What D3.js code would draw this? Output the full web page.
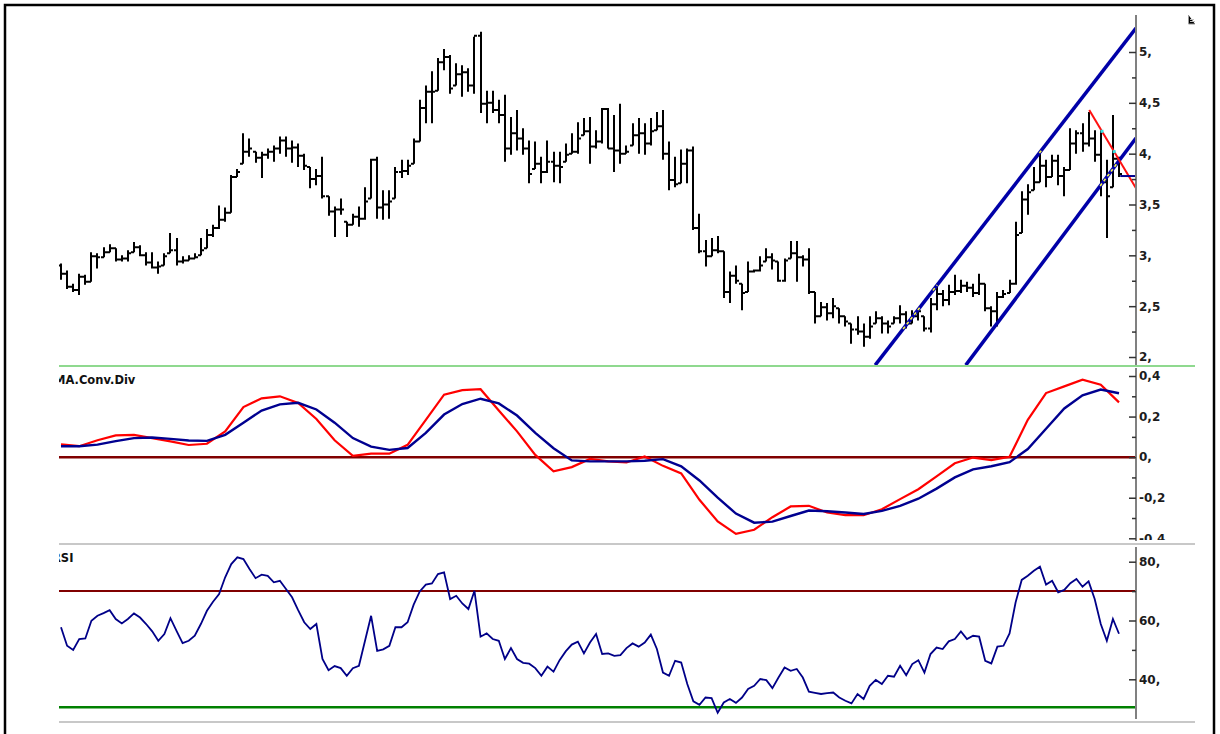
<!DOCTYPE html>
<html>
<head>
<meta charset="utf-8">
<script src="https://cdn.jsdelivr.net/npm/d3@7"></script>
<style>
  body { margin: 0; background: #fff; }
  svg { display: block; }
  .panelTitle { font-family: "DejaVu Sans", Verdana, sans-serif; font-size: 11.5px; font-weight: bold; fill: #111; }
</style>
</head>
<body>
<div id="chart"></div>
<script>
// price bars (one per session)
const priceOpen = [
  2.90, 2.82, 2.69, 2.66, 2.79, 2.74, 2.99, 2.98, 3.03, 3.07,
  2.96, 2.97, 3.03, 3.08, 3.00, 2.93, 2.88, 2.90, 3.02, 3.05,
  2.94, 2.95, 2.97, 3.00, 3.07, 3.20, 3.27, 3.35, 3.42, 3.77,
  3.90, 4.02, 4.02, 3.96, 3.99, 4.02, 4.05, 4.13, 4.05, 4.06,
  3.98, 3.87, 3.75, 3.78, 3.58, 3.43, 3.45, 3.33, 3.30, 3.38,
  3.36, 3.56, 3.94, 3.47, 3.50, 3.56, 3.82, 3.83, 3.90, 4.12,
  4.45, 4.61, 4.62, 4.90, 4.95, 4.67, 4.78, 4.80, 4.67, 5.16,
  4.49, 4.50, 4.43, 4.38, 4.05, 4.20, 4.15, 4.05, 3.85, 3.90,
  3.82, 3.92, 3.88, 3.92, 4.00, 4.02, 4.18, 4.22, 4.07, 4.12,
  4.44, 4.05, 4.03, 4.00, 4.08, 4.18, 4.20, 4.10, 4.23, 4.27,
  4.00, 3.74, 3.71, 3.90, 4.03, 3.27, 3.04, 2.99, 3.05, 3.04,
  2.64, 2.80, 2.72, 2.64, 2.84, 2.85, 2.94, 2.98, 2.94, 2.75,
  2.97, 3.02, 2.98, 2.96, 2.64, 2.40, 2.49, 2.43, 2.48, 2.40,
  2.33, 2.27, 2.25, 2.20, 2.33, 2.38, 2.33, 2.33, 2.38, 2.42,
  2.33, 2.40, 2.40, 2.28, 2.52, 2.62, 2.56, 2.64, 2.65, 2.70,
  2.68, 2.63, 2.72, 2.48, 2.45, 2.59, 2.63, 2.72, 3.22, 3.55,
  3.64, 3.72, 3.88, 3.77, 3.93, 3.78, 3.84, 4.10, 4.20, 4.10,
  4.15, 3.99, 3.72, 3.67, 3.95
];
const priceHigh = [
  2.92, 2.85, 2.72, 2.82, 2.81, 3.03, 3.02, 3.08, 3.11, 3.07,
  3.00, 3.05, 3.13, 3.10, 3.03, 3.03, 2.94, 3.02, 3.22, 3.17,
  2.99, 3.00, 3.02, 3.17, 3.26, 3.30, 3.49, 3.47, 3.79, 3.85,
  4.20, 4.15, 4.02, 4.02, 4.05, 4.08, 4.17, 4.17, 4.13, 4.10,
  4.00, 3.87, 3.85, 3.97, 3.58, 3.48, 3.56, 3.33, 3.41, 3.48,
  3.67, 3.95, 3.97, 3.64, 3.64, 3.87, 3.94, 3.94, 4.15, 4.53,
  4.67, 4.81, 4.94, 5.03, 4.97, 4.89, 4.87, 4.84, 5.15, 5.20,
  4.62, 4.62, 4.53, 4.58, 4.36, 4.43, 4.25, 4.13, 4.12, 3.97,
  4.13, 4.02, 4.02, 4.10, 4.20, 4.31, 4.35, 4.36, 4.23, 4.45,
  4.45, 4.38, 4.49, 4.08, 4.30, 4.35, 4.30, 4.35, 4.41, 4.43,
  4.12, 3.97, 4.04, 4.05, 4.07, 3.41, 3.15, 3.17, 3.19, 3.04,
  2.84, 2.90, 2.72, 2.94, 2.86, 2.99, 3.07, 3.02, 2.94, 2.97,
  3.14, 3.14, 3.00, 3.07, 2.64, 2.54, 2.53, 2.58, 2.48, 2.40,
  2.33, 2.40, 2.33, 2.40, 2.45, 2.40, 2.36, 2.40, 2.51, 2.45,
  2.46, 2.48, 2.40, 2.58, 2.72, 2.66, 2.71, 2.81, 2.76, 2.74,
  2.72, 2.82, 2.72, 2.50, 2.64, 2.66, 2.76, 3.33, 3.63, 3.70,
  3.87, 4.02, 3.94, 3.99, 3.99, 3.87, 4.25, 4.23, 4.30, 4.41,
  4.23, 4.23, 3.94, 4.38, 3.97
];
const priceLow = [
  2.76, 2.67, 2.64, 2.61, 2.71, 2.74, 2.87, 2.98, 3.03, 2.94,
  2.94, 2.94, 3.03, 2.99, 2.90, 2.87, 2.82, 2.90, 3.02, 2.90,
  2.92, 2.95, 2.97, 3.00, 3.07, 3.18, 3.26, 3.33, 3.42, 3.77,
  3.90, 3.97, 3.91, 3.76, 3.95, 3.92, 4.00, 3.97, 3.91, 3.87,
  3.84, 3.66, 3.69, 3.56, 3.39, 3.18, 3.40, 3.18, 3.30, 3.28,
  3.35, 3.56, 3.36, 3.35, 3.36, 3.56, 3.76, 3.79, 3.90, 4.12,
  4.30, 4.30, 4.62, 4.82, 4.59, 4.67, 4.56, 4.61, 4.59, 4.40,
  4.30, 4.40, 4.30, 3.92, 3.99, 4.03, 3.99, 3.71, 3.85, 3.71,
  3.81, 3.72, 3.71, 3.92, 4.00, 4.00, 4.18, 3.90, 4.05, 4.10,
  4.05, 3.82, 3.90, 4.00, 4.08, 4.00, 3.99, 4.08, 4.23, 3.94,
  3.64, 3.67, 3.71, 3.71, 3.25, 3.02, 2.89, 2.99, 3.02, 2.58,
  2.53, 2.72, 2.46, 2.64, 2.83, 2.84, 2.94, 2.86, 2.74, 2.74,
  2.97, 2.74, 2.89, 2.62, 2.33, 2.40, 2.36, 2.38, 2.33, 2.30,
  2.13, 2.22, 2.10, 2.18, 2.33, 2.23, 2.23, 2.33, 2.33, 2.28,
  2.33, 2.36, 2.25, 2.24, 2.46, 2.50, 2.51, 2.61, 2.63, 2.64,
  2.59, 2.61, 2.45, 2.30, 2.30, 2.58, 2.63, 2.71, 3.22, 3.40,
  3.64, 3.72, 3.67, 3.77, 3.69, 3.58, 3.84, 4.00, 4.02, 4.07,
  3.92, 3.58, 3.17, 3.67, 3.77
];
const priceClose = [
  2.82, 2.69, 2.66, 2.79, 2.74, 2.99, 2.98, 3.03, 3.07, 2.96,
  2.97, 3.02, 3.08, 3.00, 2.93, 2.88, 2.89, 2.99, 3.05, 2.94,
  2.95, 2.97, 2.98, 3.05, 3.20, 3.27, 3.35, 3.42, 3.77, 3.82,
  4.02, 4.05, 3.96, 3.99, 4.02, 4.05, 4.13, 4.05, 4.06, 3.98,
  3.88, 3.75, 3.78, 3.58, 3.43, 3.45, 3.45, 3.30, 3.38, 3.36,
  3.53, 3.94, 3.47, 3.50, 3.53, 3.82, 3.83, 3.88, 4.12, 4.45,
  4.61, 4.61, 4.90, 4.95, 4.64, 4.78, 4.80, 4.67, 5.16, 4.49,
  4.50, 4.43, 4.38, 4.05, 4.20, 4.15, 4.05, 3.80, 3.90, 3.82,
  3.92, 3.88, 3.87, 3.99, 4.02, 4.15, 4.22, 4.07, 4.12, 4.44,
  4.05, 4.03, 4.00, 4.02, 4.18, 4.20, 4.10, 4.22, 4.27, 4.00,
  3.74, 3.70, 3.90, 4.03, 3.27, 3.04, 2.99, 3.05, 3.04, 2.64,
  2.80, 2.75, 2.63, 2.84, 2.85, 2.90, 2.98, 2.95, 2.75, 2.95,
  3.02, 2.98, 2.96, 2.64, 2.40, 2.49, 2.43, 2.50, 2.40, 2.35,
  2.27, 2.25, 2.20, 2.30, 2.38, 2.33, 2.30, 2.38, 2.42, 2.33,
  2.40, 2.45, 2.28, 2.52, 2.62, 2.56, 2.64, 2.65, 2.70, 2.68,
  2.63, 2.72, 2.48, 2.45, 2.59, 2.62, 2.72, 3.20, 3.55, 3.62,
  3.72, 3.88, 3.77, 3.93, 3.78, 3.84, 4.10, 4.20, 4.10, 4.15,
  3.99, 3.72, 3.58, 3.95, 3.80
];

// MACD (red) and its signal (navy), read every third session
const macdIdx = [
  0, 3, 6, 9, 12, 15, 18, 21, 24, 27, 30, 33, 36, 39, 42, 45, 48, 51, 54, 57,
  60, 63, 66, 69, 72, 75, 78, 81, 84, 87, 90, 93, 96, 99, 102, 105, 108, 111, 114, 117,
  120, 123, 126, 129, 132, 135, 138, 141, 144, 147, 150, 153, 156, 159, 162, 165, 168, 171, 174
];
const macdLine = [
  0.063, 0.054, 0.083, 0.107, 0.110, 0.094, 0.078, 0.060, 0.066, 0.127,
  0.247, 0.290, 0.300, 0.267, 0.188, 0.083, 0.007, 0.017, 0.017, 0.061,
  0.184, 0.308, 0.330, 0.335, 0.230, 0.127, 0.011, -0.070, -0.049, -0.009,
  -0.021, -0.026, 0.003, -0.043, -0.080, -0.210, -0.317, -0.378, -0.358, -0.296,
  -0.243, -0.240, -0.273, -0.286, -0.286, -0.257, -0.207, -0.158, -0.095, -0.030,
  -0.002, -0.015, 0.002, 0.184, 0.316, 0.349, 0.382, 0.357, 0.270
];
const signalLine = [
  0.054, 0.054, 0.062, 0.079, 0.094, 0.097, 0.090, 0.082, 0.080, 0.110,
  0.170, 0.230, 0.260, 0.268, 0.235, 0.170, 0.094, 0.052, 0.036, 0.045,
  0.120, 0.210, 0.262, 0.288, 0.265, 0.205, 0.120, 0.044, -0.016, -0.021,
  -0.021, -0.021, -0.018, -0.010, -0.045, -0.115, -0.200, -0.278, -0.323, -0.318,
  -0.290, -0.263, -0.267, -0.273, -0.280, -0.265, -0.240, -0.205, -0.155, -0.100,
  -0.060, -0.045, -0.025, 0.040, 0.140, 0.240, 0.305, 0.333, 0.315
];

// RSI, one value per session
const rsiValues = [
  57.7, 51.4, 50.0, 53.7, 53.9, 59.9, 61.6, 62.5, 63.5, 60.5,
  59.0, 60.5, 62.4, 61.0, 58.8, 56.3, 53.1, 55.4, 60.8, 56.5,
  52.3, 53.1, 54.8, 58.8, 63.3, 66.4, 69.0, 74.7, 79.2, 81.5,
  80.9, 77.5, 74.4, 75.6, 75.2, 73.0, 73.5, 70.7, 67.9, 63.5,
  59.4, 57.1, 58.8, 46.9, 43.1, 44.5, 43.8, 41.2, 43.8, 44.6,
  53.1, 61.6, 49.7, 50.2, 51.4, 57.7, 57.7, 59.4, 65.4, 69.9,
  72.2, 72.6, 75.8, 76.4, 67.3, 68.4, 65.8, 63.9, 70.1, 54.5,
  55.6, 53.7, 53.1, 46.9, 50.6, 46.9, 45.6, 45.3, 43.8, 41.2,
  44.3, 42.6, 46.5, 49.5, 51.8, 52.8, 48.8, 52.5, 55.4, 48.6,
  48.8, 48.0, 48.2, 50.6, 52.2, 51.1, 52.5, 55.2, 50.3, 42.3,
  41.2, 46.3, 45.7, 38.4, 32.5, 31.3, 33.8, 33.6, 28.6, 32.1,
  33.3, 32.0, 33.8, 36.7, 37.8, 40.1, 39.7, 37.0, 40.6, 44.0,
  42.9, 43.5, 40.6, 35.8, 35.4, 35.0, 35.3, 35.5, 33.8, 32.7,
  31.8, 35.0, 33.3, 37.8, 39.8, 38.4, 41.2, 40.9, 44.6, 41.4,
  45.2, 46.5, 42.3, 48.6, 50.8, 50.3, 52.9, 53.7, 56.3, 53.7,
  54.8, 54.5, 46.3, 45.4, 51.1, 51.4, 55.6, 66.2, 73.8, 75.2,
  76.9, 78.3, 72.2, 73.5, 69.6, 70.4, 72.7, 74.1, 71.5, 73.3,
  67.3, 58.8, 53.1, 60.5, 55.5
];

// axis ticks and reference levels
const priceTicks = [2, 2.5, 3, 3.5, 4, 4.5, 5];
const priceMinorTicks = [2.25, 2.75, 3.25, 3.75, 4.25, 4.75];
const macdTicks = [-0.4, -0.2, 0, 0.2, 0.4];
const macdMinorTicks = [-0.3, -0.1, 0.1, 0.3];
const rsiTicks = [40, 60, 80];
const rsiMinorTicks = [50, 70];
const rsiUpperLevel = 70;
const rsiLowerLevel = 30;

// drawn studies on the price panel: [session index, price]
const channelUpper = [[133.9, 1.92], [176.8, 5.235]];
const channelLower = [[148.8, 1.92], [176.8, 4.153]];
const downTrend = [[169.1, 4.43], [176.8, 3.66]];
const stopLine = [[174.2, 3.78], [176.8, 3.78]];
const touchesUpper = [[138.5, 141.3], [143.4, 144.1], [160.9, 161.3]];
const touchesLower = [[170.9, 173.7]];
const crossMarks = [[171.2, 4.22], [173.2, 4.02]];

const width = 1220, height = 734;
const plotLeft = 59, axisX = 1136, sepRight = 1195;

let svg = d3.select('#chart').append('svg')
    .attr('width', width)
    .attr('height', height);

let x = d3.scaleLinear().domain([0, priceClose.length - 1]).range([61, 1119]);
let yPrice = d3.scaleLinear().domain([2, 5]).range([357, 52]);
let yMacd = d3.scaleLinear().domain([-0.4, 0.4]).range([538.3, 376]);
let yRsi = d3.scaleLinear().domain([40, 80]).range([679.3, 561.7]);

let defs = svg.append('defs');
addClip('clipPrice', 14, 365);
addClip('clipMacd', 367, 543);
addClip('clipRsi', 545, 721);

drawFrame();
drawPrice();
drawMacd();
drawRsi();

function addClip(id, y0, y1) {
  defs.append('clipPath').attr('id', id)
    .append('rect')
      .attr('x', plotLeft)
      .attr('y', y0)
      .attr('width', axisX - plotLeft)
      .attr('height', y1 - y0);
}

// "4,5" / "5," style labels
function fmtTick(v) {
  if (Number.isInteger(v)) {
    return v + ',';
  }
  return String(v).replace('.', ',');
}

function drawFrame() {
  svg.append('rect')
      .attr('x', 5).attr('y', 5)
      .attr('width', 1209).attr('height', 760)
      .attr('fill', 'none')
      .attr('stroke', '#000')
      .attr('stroke-width', 2.5);

  // panel separators
  svg.append('line')
      .attr('x1', plotLeft).attr('x2', sepRight)
      .attr('y1', 366).attr('y2', 366)
      .attr('stroke', '#8fd98f').attr('stroke-width', 2);
  [544, 722].forEach((yy) => {
    svg.append('line')
        .attr('x1', plotLeft).attr('x2', sepRight)
        .attr('y1', yy).attr('y2', yy)
        .attr('stroke', '#c8c8c8').attr('stroke-width', 2);
  });

  // small tool glyph in the top right corner
  let glyph = svg.append('g').attr('stroke', '#9a9a9a').attr('stroke-width', 1);
  glyph.append('path').attr('d', 'M1188.5,15 V24 H1195');
  glyph.append('path').attr('d', 'M1190,21.5 H1195 M1190,19.5 H1194').attr('stroke', '#c0c0c0');
}

function drawAxis(scale, major, minor, y0, y1, clipY0, clipY1) {
  svg.append('line')
      .attr('x1', axisX).attr('x2', axisX)
      .attr('y1', y0).attr('y2', y1)
      .attr('stroke', '#808080').attr('stroke-width', 2);

  let clipId = 'axclip' + Math.round(y0);
  defs.append('clipPath').attr('id', clipId)
    .append('rect')
      .attr('x', axisX - 10).attr('y', clipY0)
      .attr('width', 80).attr('height', clipY1 - clipY0);

  let outer = svg.append('g').attr('clip-path', 'url(#' + clipId + ')');
  let g = outer.append('g').attr('transform', 'translate(' + axisX + ',0)');

  g.append('g').call(d3.axisRight(scale).tickValues(minor).tickSize(-4).tickFormat(''));
  g.append('g').call(d3.axisRight(scale).tickValues(major).tickSize(-7).tickPadding(3).tickFormat(fmtTick));

  g.selectAll('.domain').remove();
  g.selectAll('line').attr('stroke', '#333').attr('stroke-width', 1.5);
  g.selectAll('text')
      .attr('fill', '#1c1c1c')
      .attr('font-family', '"DejaVu Sans", Verdana, sans-serif')
      .attr('font-size', 12)
      .attr('font-weight', 'bold');
}

function drawPrice() {
  let g = svg.append('g').attr('clip-path', 'url(#clipPrice)');

  g.selectAll('path.bar')
      .data(priceClose)
    .enter().append('path')
      .attr('class', 'bar')
      .attr('d', (d, i) => {
        let xx = Math.round(x(i));
        return 'M' + xx + ',' + yPrice(priceHigh[i]) + 'V' + yPrice(priceLow[i]) +
               'M' + (xx - 3) + ',' + yPrice(priceOpen[i]) + 'H' + xx +
               'M' + xx + ',' + yPrice(d) + 'H' + (xx + 3);
      })
      .attr('fill', 'none')
      .attr('stroke', '#000')
      .attr('stroke-width', 2);

  let line = d3.line().x((d) => x(d[0])).y((d) => yPrice(d[1]));

  [channelUpper, channelLower].forEach((ch) => {
    g.append('path')
        .attr('d', line(ch))
        .attr('fill', 'none')
        .attr('stroke', '#0000a8')
        .attr('stroke-width', 3.5);
  });

  // where price touched the channel
  let along = (ch, i) => ch[0][1] + (ch[1][1] - ch[0][1]) * (i - ch[0][0]) / (ch[1][0] - ch[0][0]);
  touchesUpper.forEach((t) => {
    g.append('path')
        .attr('d', line([[t[0], along(channelUpper, t[0])], [t[1], along(channelUpper, t[1])]]))
        .attr('stroke', '#f5f542').attr('stroke-width', 1.6)
        .attr('stroke-dasharray', '3,3');
  });
  touchesLower.forEach((t) => {
    g.append('path')
        .attr('d', line([[t[0], along(channelLower, t[0])], [t[1], along(channelLower, t[1])]]))
        .attr('stroke', '#f5f542').attr('stroke-width', 1.6)
        .attr('stroke-dasharray', '3,3');
  });

  g.append('path')
      .attr('d', line(downTrend))
      .attr('fill', 'none')
      .attr('stroke', '#ff1010')
      .attr('stroke-width', 2);

  g.append('path')
      .attr('d', line(stopLine))
      .attr('fill', 'none')
      .attr('stroke', '#000090')
      .attr('stroke-width', 2);

  g.selectAll('rect.cross')
      .data(crossMarks)
    .enter().append('rect')
      .attr('class', 'cross')
      .attr('x', (d) => x(d[0]) - 1.5)
      .attr('y', (d) => yPrice(d[1]) - 1.5)
      .attr('width', 3).attr('height', 3)
      .attr('fill', '#30e0e0');

  drawAxis(yPrice, priceTicks, priceMinorTicks, 15, 365, 10, 366);
}

function drawMacd() {
  let g = svg.append('g').attr('clip-path', 'url(#clipMacd)');

  g.append('line')
      .attr('x1', plotLeft).attr('x2', axisX)
      .attr('y1', yMacd(0)).attr('y2', yMacd(0))
      .attr('stroke', '#800000').attr('stroke-width', 2.5);

  let line = (vals) => d3.line()
      .x((d, i) => x(macdIdx[i]))
      .y((d) => yMacd(d))(vals);

  g.append('path')
      .attr('d', line(macdLine))
      .attr('fill', 'none')
      .attr('stroke', '#ff0000')
      .attr('stroke-width', 2.2);

  g.append('path')
      .attr('d', line(signalLine))
      .attr('fill', 'none')
      .attr('stroke', '#000090')
      .attr('stroke-width', 2.4);

  g.append('text')
      .attr('class', 'panelTitle')
      .attr('x', 54)
      .attr('y', 384)
      .text('MA.Conv.Div');

  drawAxis(yMacd, macdTicks, macdMinorTicks, 368, 541, 367, 540);
}

function drawRsi() {
  let g = svg.append('g').attr('clip-path', 'url(#clipRsi)');

  g.append('line')
      .attr('x1', plotLeft).attr('x2', axisX)
      .attr('y1', yRsi(rsiUpperLevel)).attr('y2', yRsi(rsiUpperLevel))
      .attr('stroke', '#800000').attr('stroke-width', 2);

  g.append('line')
      .attr('x1', plotLeft).attr('x2', axisX)
      .attr('y1', yRsi(rsiLowerLevel) - 1.5).attr('y2', yRsi(rsiLowerLevel) - 1.5)
      .attr('stroke', '#008000').attr('stroke-width', 2.5);

  g.append('path')
      .attr('d', d3.line().x((d, i) => x(i)).y((d) => yRsi(d))(rsiValues))
      .attr('fill', 'none')
      .attr('stroke', '#000088')
      .attr('stroke-width', 1.8);

  g.append('text')
      .attr('class', 'panelTitle')
      .attr('x', 52)
      .attr('y', 562)
      .text('RSI');

  drawAxis(yRsi, rsiTicks, rsiMinorTicks, 547, 719, 545, 721);
}
</script>
</body>
</html>
